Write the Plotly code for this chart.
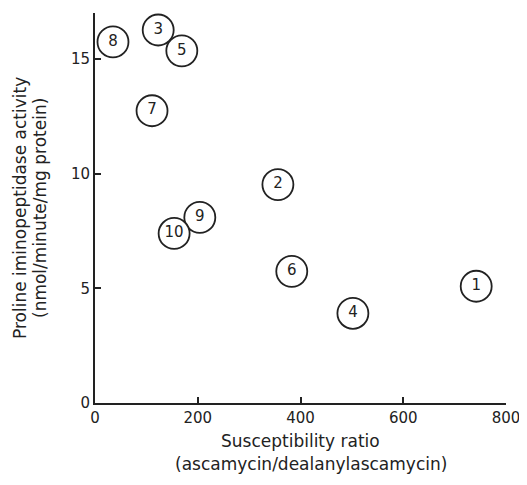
import plotly.graph_objects as go

labels = ["1", "2", "3", "4", "5", "6", "7", "8", "9", "10"]
susceptibility_ratio = [742, 356, 123, 502, 169, 383, 111, 35, 204, 154]
proline_activity = [5.09, 9.52, 16.26, 3.91, 15.35, 5.74, 12.74, 15.74, 8.09, 7.39]

x_ticks = [0, 200, 400, 600, 800]
y_ticks = [0, 5, 10, 15]

x_title_lines = ["Susceptibility ratio", "(ascamycin/dealanylascamycin)"]
y_title_lines = ["Proline iminopeptidase activity", "(nmol/minute/mg protein)"]

font_family = "DejaVu Sans, Verdana, sans-serif"
ink = "#222"

fig = go.Figure()
fig.add_trace(go.Scatter(
    x=susceptibility_ratio,
    y=proline_activity,
    mode="markers+text",
    text=labels,
    textposition="middle center",
    textfont=dict(family=font_family, size=15, color=ink),
    marker=dict(symbol="circle", size=31, color="white",
                line=dict(color=ink, width=1.8)),
    cliponaxis=False,
    showlegend=False,
))

axis_common = dict(
    ticks="inside", ticklen=6, tickwidth=1.5, tickcolor=ink,
    showline=True, linecolor=ink, linewidth=1.7,
    showgrid=False, zeroline=False, automargin=False,
    tickfont=dict(size=15, color=ink),
)

# page body has an 8px default margin, so the figure is 8px smaller
fig.update_layout(
    width=519, height=477,
    margin=dict(l=87, r=21, t=5, b=82),
    paper_bgcolor="white", plot_bgcolor="white",
    font=dict(family=font_family, size=14, color=ink),
    xaxis=dict(range=[0, 800], tickvals=x_ticks, **axis_common),
    yaxis=dict(range=[0, 17], tickvals=y_ticks, **axis_common),
)

for i, (line, shift) in enumerate(zip(x_title_lines, [-38, -61])):
    fig.add_annotation(
        text=line, xref="paper", yref="paper", x=0.5, y=0,
        xanchor="center", yanchor="middle", yshift=shift,
        xshift=0 if i == 0 else 10,
        showarrow=False, font=dict(size=17, color=ink),
    )
for line, shift in zip(y_title_lines, [-75, -55]):
    fig.add_annotation(
        text=line, xref="paper", yref="paper", x=0, y=0.5,
        xanchor="center", yanchor="middle", xshift=shift, textangle=-90,
        showarrow=False, font=dict(size=17, color=ink),
    )

fig.write_html("out.html")
